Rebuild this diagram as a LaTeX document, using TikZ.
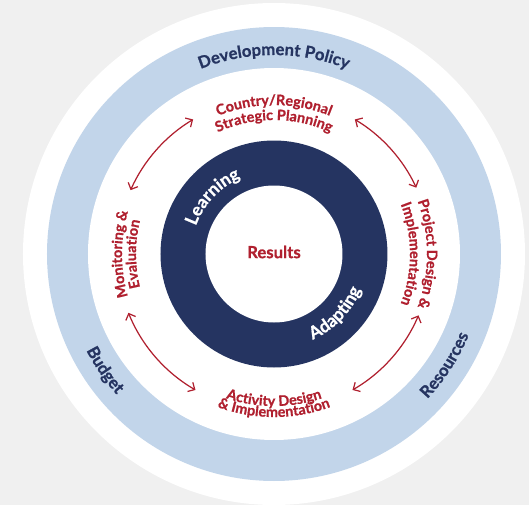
\documentclass[tikz,border=0pt]{standalone}
\usepackage{fontspec}
\setmainfont{Lato}[BoldFeatures={FakeBold=0.8}]
\usetikzlibrary{decorations.text,arrows.meta}

\definecolor{bggray}{HTML}{F0F0F0}
\definecolor{ringblue}{HTML}{C2D5EA}
\definecolor{navy}{HTML}{253461}
\definecolor{cyclered}{HTML}{B0202F}

\newcommand{\redfont}{\fontsize{8.2}{9}\selectfont\bfseries\color{cyclered}}
\newcommand{\navyfont}{\fontsize{9.5}{11}\selectfont\bfseries\color{navy}}
\newcommand{\ringfont}{\fontsize{10}{12}\selectfont\bfseries\color{white}}

\tikzset{
  arclabel/.style={decorate, decoration={text along path, text align=center, text={#1}}},
  cyclearrow/.style={draw=cyclered, line width=0.7pt,
    {Straight Barb[length=3pt,width=6pt]}-{Straight Barb[length=3pt,width=6pt]}}
}

\begin{document}
\begin{tikzpicture}[x=0.02cm, y=0.02cm]
  \useasboundingbox[fill=bggray] (-274,-251) rectangle (255,254);
  % rings
  \fill[white] (0,0) circle (251);
  \fill[ringblue] (0,0) circle (227);
  \fill[white] (0,0) circle (186);
  \fill[navy] (0,0) circle (113.5);
  \fill[white] (0,0) circle (68.5);

  \node[font=\fontsize{9.5}{11}\selectfont\bfseries, text=cyclered] (results) at (0,2) {Results};

  % outer ring
  \path[arclabel={|\navyfont|Development Policy}] (180:199) arc[start angle=180, end angle=0, radius=199];
  \path[arclabel={|\navyfont|Budget}] (174.5:211) arc[start angle=174.5, end angle=254.5, radius=211];
  \path[arclabel={|\navyfont|Resources}] (287:211) arc[start angle=287, end angle=367, radius=211];

  % navy ring
  \path[arclabel={|\ringfont|Learning}] (187:83) arc[start angle=187, end angle=87, radius=83];
  \path[arclabel={|\ringfont|Adapting}] (-94:94) arc[start angle=-94, end angle=6, radius=94];

  % cycle steps
  \path[arclabel={|\redfont|Country/Regional}] (180:149) arc[start angle=180, end angle=0, radius=149];
  \path[arclabel={|\redfont|Strategic Planning}] (180:134) arc[start angle=180, end angle=0, radius=134];
  \path[arclabel={|\redfont|Project Design {\&}}] (90:153) arc[start angle=90, end angle=-90, radius=153];
  \path[arclabel={|\redfont|Implementation}] (90:136) arc[start angle=90, end angle=-90, radius=136];
  \path[arclabel={|\redfont|Activity Design}] (180:152) arc[start angle=180, end angle=360, radius=152];
  \path[arclabel={|\redfont|{\&} Implementation}] (180:163) arc[start angle=180, end angle=360, radius=163];
  \path[arclabel={|\redfont|Monitoring {\&}}] (270:152) arc[start angle=270, end angle=90, radius=152];
  \path[arclabel={|\redfont|Evaluation}] (270:138) arc[start angle=270, end angle=90, radius=138];

  % arrows between steps
  \coordinate (plan-l) at (121:157);
  \coordinate (plan-r) at (59:157);
  \coordinate (proj-t) at (25:157);
  \coordinate (proj-b) at (-23:157);
  \coordinate (act-r) at (-60:158);
  \coordinate (act-l) at (240:158);
  \coordinate (me-b) at (202:157);
  \coordinate (me-t) at (156:157);
  \draw[cyclearrow] (plan-l) arc[start angle=121, end angle=156, radius=157];
  \draw[cyclearrow] (plan-r) arc[start angle=59, end angle=25, radius=157];
  \draw[cyclearrow] (proj-b) arc[start angle=-23, end angle=-60, radius=157];
  \draw[cyclearrow] (me-b) arc[start angle=202, end angle=240, radius=157];
\end{tikzpicture}
\end{document}
